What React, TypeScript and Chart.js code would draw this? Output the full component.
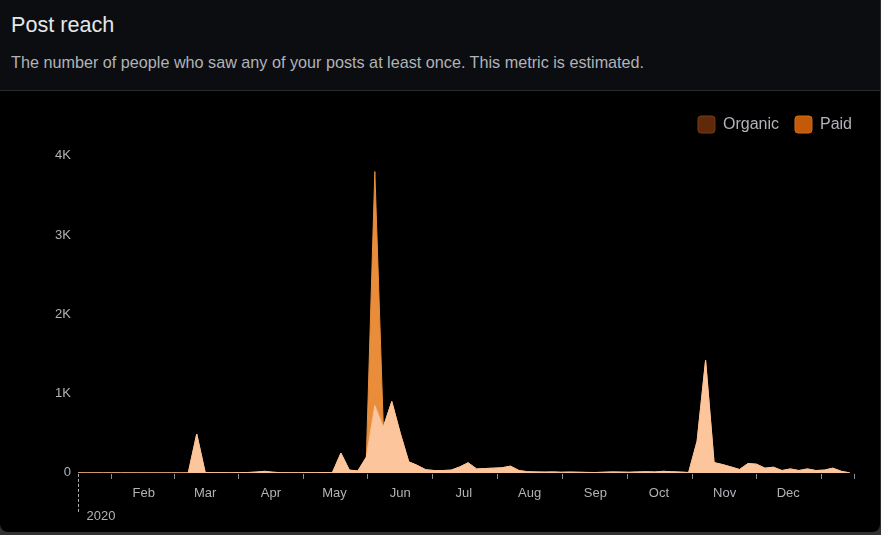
import React, { useEffect, useRef } from "react";
import { Chart, registerables } from "chart.js";

Chart.register(...registerables);

// ---- data ----
const YEAR_LABEL = "2020";
const STEP_DAYS = 4; // one sample every 4 days, starting Jan 1
const organicReach = [
  0, 0, 0, 0, 0, 0, 0, 0, 0, 0,
  0, 0, 0, 0, 490, 5, 3, 3, 2, 3,
  5, 10, 20, 8, 3, 2, 2, 3, 3, 5,
  5, 250, 35, 25, 200, 850, 580, 900, 500, 140,
  95, 40, 30, 30, 35, 75, 128, 50, 55, 60,
  65, 85, 30, 15, 12, 10, 12, 8, 10, 8,
  6, 5, 8, 12, 10, 8, 12, 15, 12, 20,
  15, 10, 5, 400, 1420, 130, 105, 75, 43, 118,
  110, 60, 72, 30, 50, 30, 50, 30, 35, 60,
  20, 0,
];
const paidReach = [
  0, 0, 0, 0, 0, 0, 0, 0, 0, 0,
  0, 0, 0, 0, 0, 0, 0, 0, 0, 0,
  0, 0, 0, 0, 0, 0, 0, 0, 0, 0,
  0, 0, 0, 0, 0, 2950, 0, 0, 0, 0,
  0, 0, 0, 0, 0, 0, 0, 0, 0, 0,
  0, 0, 0, 0, 0, 0, 0, 0, 0, 0,
  0, 0, 0, 0, 0, 0, 0, 0, 0, 0,
  0, 0, 0, 0, 0, 0, 0, 0, 0, 0,
  0, 0, 0, 0, 0, 0, 0, 0, 0, 0,
  0, 0,
];
const seriesNames = ["Organic", "Paid"];
// day-of-year (2020) where each month starts, plus year end
const monthStartDays = [0, 31, 60, 91, 121, 152, 182, 213, 244, 274, 305, 335, 366];
const monthNames = ["Jan", "Feb", "Mar", "Apr", "May", "Jun", "Jul", "Aug", "Sep", "Oct", "Nov", "Dec"];
const yTickValues = [0, 1000, 2000, 3000, 4000];

// ---- styles ----
const FONT = "'Liberation Sans', Arial, Helvetica, sans-serif";
const TEXT = "#b0b3b8";
const ORGANIC_FILL = "#fcc59b";
const PAID_FILL = "#ea8d3b";
const ORGANIC_LEGEND = "#5e2a0b";
const PAID_LEGEND = "#c25a0a";

const axisDecor = {
  id: "axisDecor",
  afterDraw(chart: any) {
    const xs = chart.scales.x;
    const ctx = chart.ctx;
    const bottom = chart.chartArea.bottom;
    ctx.save();
    ctx.strokeStyle = "#8d9095";
    ctx.lineWidth = 1;
    // tick marks between month labels (month mid-points) and at year end
    for (let i = 0; i < monthStartDays.length - 1; i++) {
      const mid = (monthStartDays[i] + monthStartDays[i + 1]) / 2;
      const px = Math.round(xs.getPixelForValue(mid)) + 0.5;
      ctx.beginPath();
      ctx.moveTo(px, bottom + 1);
      ctx.lineTo(px, bottom + 6);
      ctx.stroke();
    }
    const pxEnd = Math.round(xs.getPixelForValue(monthStartDays[monthStartDays.length - 1])) + 0.5;
    ctx.beginPath();
    ctx.moveTo(pxEnd, bottom + 1);
    ctx.lineTo(pxEnd, bottom + 6);
    ctx.stroke();
    // year separator
    const px0 = Math.round(xs.getPixelForValue(0)) + 0.5;
    ctx.strokeStyle = "#b0b3b8";
    ctx.setLineDash([3, 2]);
    ctx.beginPath();
    ctx.moveTo(px0, bottom + 1);
    ctx.lineTo(px0, bottom + 39);
    ctx.stroke();
    ctx.setLineDash([]);
    ctx.fillStyle = TEXT;
    ctx.font = `13px ${FONT}`;
    ctx.textBaseline = "middle";
    ctx.textAlign = "left";
    ctx.fillText(YEAR_LABEL, px0 + 8, bottom + 43.5);
    ctx.restore();
  },
};

function ReachChart() {
  const ref = useRef<HTMLCanvasElement | null>(null);
  useEffect(() => {
    if (!ref.current) return;
    const organicPts = organicReach.map((v, i) => ({ x: i * STEP_DAYS, y: v }));
    const paidPts = paidReach.map((v, i) => ({ x: i * STEP_DAYS, y: v }));
    const legendColors = [ORGANIC_LEGEND, PAID_LEGEND];
    const legendBorders = ["#7a3c16", "#d26c1a"];
    const chart = new Chart(ref.current, {
      type: "line",
      data: {
        datasets: [
          {
            label: seriesNames[0],
            data: organicPts,
            backgroundColor: ORGANIC_FILL,
            borderColor: ORGANIC_FILL,
            borderWidth: 1,
            fill: "origin",
            pointRadius: 0,
            tension: 0,
          },
          {
            label: seriesNames[1],
            data: paidPts,
            backgroundColor: PAID_FILL,
            borderColor: PAID_FILL,
            borderWidth: 1,
            fill: "-1",
            pointRadius: 0,
            tension: 0,
          },
        ],
      },
      options: {
        responsive: false,
        animation: false,
        layout: { padding: { top: 9, right: 13, bottom: 17.5, left: 0 } },
        plugins: {
          tooltip: { enabled: false },
          legend: {
            position: "top",
            align: "end",
            labels: {
              color: TEXT,
              font: { family: FONT, size: 16 },
              boxWidth: 17,
              boxHeight: 17,
              padding: 16,
              useBorderRadius: true,
              borderRadius: 3,
              generateLabels: () =>
                seriesNames.map((n, i) => ({
                  text: n,
                  fillStyle: legendColors[i],
                  strokeStyle: legendBorders[i],
                  lineWidth: 1,
                  fontColor: TEXT,
                  borderRadius: 3,
                  datasetIndex: i,
                  hidden: false,
                })),
            },
          },
        },
        scales: {
          x: {
            type: "linear",
            min: 0,
            max: 372.6,
            grid: { display: false, drawTicks: false },
            border: { display: false },
            afterBuildTicks: (s: any) => {
              s.ticks = monthStartDays.slice(1, 12).map((v) => ({ value: v }));
            },
            ticks: {
              color: TEXT,
              font: { family: FONT, size: 13 },
              padding: 13,
              maxRotation: 0,
              autoSkip: false,
              callback: (v: any) => {
                const idx = monthStartDays.indexOf(Number(v));
                return idx >= 0 ? monthNames[idx] : "";
              },
            },
          },
          y: {
            stacked: true,
            min: 0,
            max: 4160,
            grid: { display: false, drawTicks: false },
            border: { display: false },
            afterBuildTicks: (s: any) => {
              s.ticks = yTickValues.map((v) => ({ value: v }));
            },
            afterFit: (s: any) => {
              s.width = 78;
            },
            ticks: {
              color: TEXT,
              font: { family: FONT, size: 13 },
              padding: 7,
              callback: (v: any) => (Number(v) === 0 ? "0" : `${Number(v) / 1000}K`),
            },
          },
        },
      },
      plugins: [axisDecor],
    });
    return () => chart.destroy();
  }, []);
  return <canvas ref={ref} width={881} height={441} style={{ display: "block" }} />;
}

export default function App() {
  return (
    <div style={{ position: "fixed", inset: 0, background: "#303133", fontFamily: FONT }}>
      <div
        style={{
          position: "absolute",
          left: 0,
          top: 0,
          width: 880,
          height: 532,
          background: "#000",
          borderRight: "1px solid #2b2c2f",
          borderRadius: "0 0 8px 8px",
          overflow: "hidden",
        }}
      >
        <div
          style={{
            position: "absolute",
            left: 0,
            top: 0,
            width: 880,
            height: 90,
            background: "#0c0d10",
            borderBottom: "1px solid #2a2b2e",
          }}
        >
          <div style={{ position: "absolute", left: 11, top: 13, fontSize: 21.6, lineHeight: "24px", color: "#e4e6eb" }}>
            Post reach
          </div>
          <div style={{ position: "absolute", left: 11, top: 52.6, fontSize: 16.2, lineHeight: "19px", color: TEXT, whiteSpace: "nowrap" }}>
            The number of people who saw any of your posts at least once. This metric is estimated.
          </div>
        </div>
        <div style={{ position: "absolute", left: 0, top: 91, width: 881, height: 441 }}>
          <ReachChart />
        </div>
      </div>
    </div>
  );
}
